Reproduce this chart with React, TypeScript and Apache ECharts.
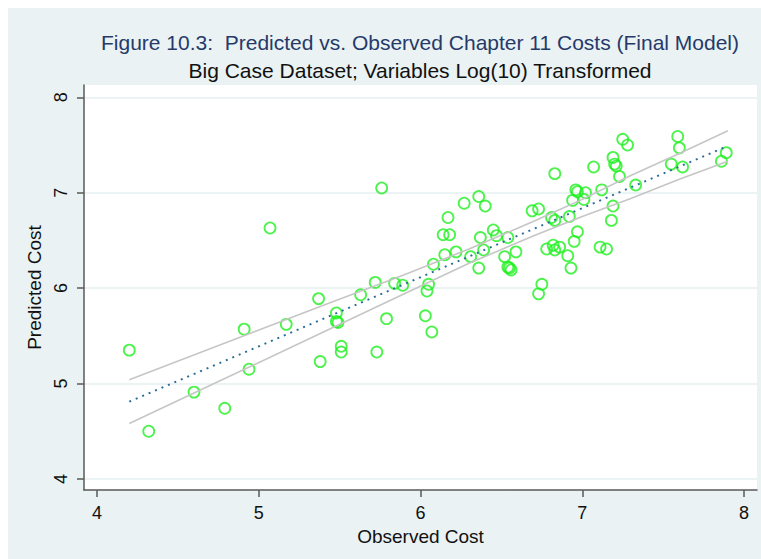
import { useEffect, useRef } from "react";
import * as echarts from "echarts";

// Observed vs. predicted log10 costs, one entry per case
const observed = [
  4.2, 4.32, 4.6, 4.79, 4.91, 4.94, 5.07, 5.17, 5.37, 5.38,
  5.48, 5.48, 5.49, 5.51, 5.51, 5.63, 5.72, 5.73, 5.76, 5.79,
  5.84, 5.89, 6.03, 6.07, 6.05, 6.04, 6.08, 6.14, 6.18, 6.17,
  6.15, 6.22, 6.27, 6.31, 6.36, 6.4, 6.37, 6.39, 6.36, 6.45,
  6.47, 6.54, 6.52, 6.59, 6.54, 6.55, 6.56, 6.69, 6.73, 6.81,
  6.83, 6.92, 6.83, 6.78, 6.82, 6.83, 6.86, 6.75, 6.73, 6.91,
  6.93, 6.95, 6.97, 6.94, 6.96, 6.97, 7.01, 7.02, 7.07, 7.12,
  7.11, 7.15, 7.18, 7.19, 7.19, 7.2, 7.21, 7.23, 7.25, 7.28,
  7.33, 7.55, 7.59, 7.6, 7.62, 7.86, 7.89,
];
const predicted = [
  5.35, 4.5, 4.91, 4.74, 5.57, 5.15, 6.63, 5.62, 5.89, 5.23,
  5.74, 5.65, 5.64, 5.39, 5.33, 5.93, 6.06, 5.33, 7.05, 5.68,
  6.05, 6.03, 5.71, 5.54, 6.04, 5.97, 6.25, 6.56, 6.56, 6.74,
  6.35, 6.38, 6.89, 6.33, 6.96, 6.86, 6.53, 6.4, 6.21, 6.61,
  6.55, 6.53, 6.33, 6.38, 6.22, 6.21, 6.19, 6.81, 6.83, 6.74,
  6.71, 6.75, 7.2, 6.41, 6.45, 6.4, 6.43, 6.04, 5.94, 6.34,
  6.21, 6.49, 6.59, 6.92, 7.03, 7.01, 6.93, 7.0, 7.27, 7.03,
  6.43, 6.41, 6.71, 6.86, 7.37, 7.3, 7.28, 7.17, 7.56, 7.5,
  7.08, 7.3, 7.59, 7.47, 7.27, 7.33, 7.42,
];

// Fitted line and its confidence band
const fitX = [4.2, 7.9];
const fitY = [4.81, 7.49];
const bandX = [4.2, 4.8, 5.4, 5.9, 6.3, 6.7, 7.0, 7.3, 7.6, 7.9];
const bandUpper = [5.04, 5.43, 5.82, 6.14, 6.41, 6.7, 6.93, 7.18, 7.41, 7.65];
const bandLower = [4.58, 5.06, 5.54, 5.94, 6.26, 6.55, 6.75, 6.94, 7.14, 7.33];

const xTicks = [4, 5, 6, 7, 8];
const yTicks = [4, 5, 6, 7, 8];

const titleText = "Figure 10.3:  Predicted vs. Observed Chapter 11 Costs (Final Model)";
const subtitleText = "Big Case Dataset; Variables Log(10) Transformed";

const FONT = "'Liberation Sans', Arial, Helvetica, sans-serif";
const AXIS_COLOR = "#5a5a5a";

export default function App() {
  const ref = useRef<HTMLDivElement>(null);

  useEffect(() => {
    if (!ref.current) return;
    const chart = echarts.init(ref.current, null, { renderer: "svg" });

    const points = observed.map((x, i) => [x, predicted[i]]);
    const upper = bandX.map((x, i) => [x, bandUpper[i]]);
    const lower = bandX.map((x, i) => [x, bandLower[i]]);
    const fit = fitX.map((x, i) => [x, fitY[i]]);

    chart.setOption({
      animation: false,
      backgroundColor: "#eaf2f3",
      textStyle: { fontFamily: FONT },
      graphic: [
        {
          type: "text",
          x: 412,
          y: 34,
          style: {
            text: titleText,
            fontSize: 21,
            fontFamily: FONT,
            fill: "#263a6a",
            textAlign: "center",
            textVerticalAlign: "middle",
          },
        },
        {
          type: "text",
          x: 412,
          y: 62,
          style: {
            text: subtitleText,
            fontSize: 21,
            fontFamily: FONT,
            fill: "#111111",
            textAlign: "center",
            textVerticalAlign: "middle",
          },
        },
      ],
      grid: {
        show: true,
        left: 76,
        top: 77,
        width: 673,
        height: 405,
        backgroundColor: "#ffffff",
        borderWidth: 0,
      },
      xAxis: {
        type: "value",
        min: 3.92,
        max: 8.08,
        name: "Observed Cost",
        nameLocation: "middle",
        nameGap: 29,
        nameTextStyle: { fontSize: 19, color: "#111111", fontFamily: FONT },
        axisLine: { show: true, onZero: false, lineStyle: { color: AXIS_COLOR, width: 1.5 } },
        axisTick: {
          show: true,
          length: 7,
          customValues: xTicks,
          lineStyle: { color: AXIS_COLOR, width: 1.5 },
        },
        axisLabel: {
          customValues: xTicks,
          margin: 14,
          fontSize: 18,
          color: "#111111",
          fontFamily: FONT,
        },
        splitLine: { show: false },
      },
      yAxis: {
        type: "value",
        min: 3.884,
        max: 8.129,
        name: "Predicted Cost",
        nameLocation: "middle",
        nameGap: 29,
        nameTextStyle: { fontSize: 19, color: "#111111", fontFamily: FONT },
        axisLine: { show: true, onZero: false, lineStyle: { color: AXIS_COLOR, width: 1.5 } },
        axisTick: {
          show: true,
          length: 7,
          customValues: yTicks,
          lineStyle: { color: AXIS_COLOR, width: 1.5 },
        },
        axisLabel: {
          customValues: yTicks,
          rotate: 90,
          margin: 14,
          fontSize: 18,
          color: "#111111",
          fontFamily: FONT,
        },
        splitLine: { show: true, lineStyle: { color: "#e6eff1", width: 1.5 } },
      },
      series: [
        {
          type: "line",
          data: upper,
          showSymbol: false,
          silent: true,
          lineStyle: { color: "#c6c6c6", width: 1.6 },
        },
        {
          type: "line",
          data: lower,
          showSymbol: false,
          silent: true,
          lineStyle: { color: "#c6c6c6", width: 1.6 },
        },
        {
          type: "line",
          data: fit,
          showSymbol: false,
          silent: true,
          lineStyle: { color: "#2a6c98", width: 2, type: [2, 5] },
        },
        {
          type: "scatter",
          data: points,
          symbol: "circle",
          symbolSize: 11,
          itemStyle: { color: "transparent", borderColor: "#1ef01e", borderWidth: 1.8 },
        },
      ],
    });

    return () => chart.dispose();
  }, []);

  return (
    <div
      ref={ref}
      style={{ position: "absolute", left: 8, top: 8, width: 753, height: 551 }}
    />
  );
}
